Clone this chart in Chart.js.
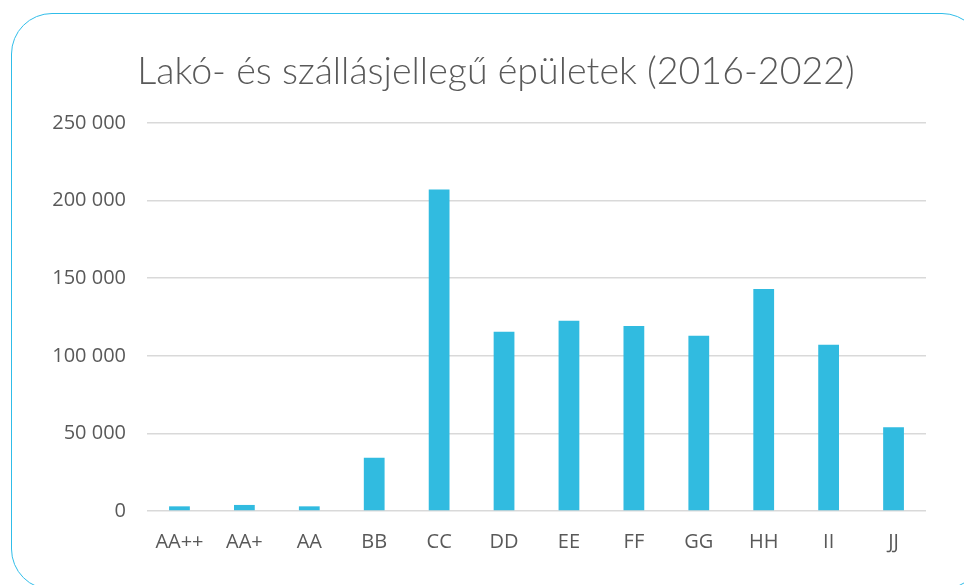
<!DOCTYPE html>
<html>
<head>
<meta charset="utf-8">
<script src="https://cdn.jsdelivr.net/npm/chart.js@4"></script>
<style>
  html, body { margin:0; padding:0; background:#ffffff; overflow:hidden; }
  #wrap { position:relative; width:964px; height:585px; }
  #frame { position:absolute; left:10.5px; top:12.5px; width:972px; height:577px; border:1.6px solid #30bde9; border-radius:41px; box-sizing:border-box; pointer-events:none; }
  canvas { position:absolute; left:0; top:0; }
</style>
</head>
<body>
<div id="wrap">
  <canvas id="c" width="964" height="585"></canvas>
  <div id="frame"></div>
</div>
<script>
const titleText = 'Lakó- és szállásjellegű épületek (2016-2022)';
const categories = ['AA++', 'AA+', 'AA', 'BB', 'CC', 'DD', 'EE', 'FF', 'GG', 'HH', 'II', 'JJ'];
const values = [3000, 3900, 3000, 34300, 207200, 115500, 122600, 119200, 112900, 143000, 107100, 53900];
const yTicks = [0, 50000, 100000, 150000, 200000, 250000];

const fmt = v => String(v).replace(/\B(?=(\d{3})+(?!\d))/g, ' ');

new Chart(document.getElementById('c'), {
  type: 'bar',
  data: {
    labels: categories,
    datasets: [{
      data: values,
      backgroundColor: '#31bbe0',
      borderWidth: 0,
      barPercentage: 0.32,
      categoryPercentage: 1.0
    }]
  },
  options: {
    responsive: false,
    animation: false,
    layout: { padding: { left: 28, right: 0, top: 0, bottom: 0 } },
    plugins: {
      legend: { display: false },
      tooltip: { enabled: false },
      title: {
        display: true,
        text: titleText,
        color: '#595959',
        font: { family: 'Lato', size: 37.6, weight: 300 },
        padding: { top: 49.6, bottom: 28.3 }
      }
    },
    scales: {
      x: {
        grid: { display: false },
        border: { display: false },
        ticks: { color: '#595959', font: { family: 'Open Sans', size: 20 }, padding: 11, maxRotation: 0 },
        afterFit: s => { s.height = 74; }
      },
      y: {
        min: 0, max: 250000,
        afterBuildTicks: s => { s.ticks = yTicks.map(v => ({ value: v })); },
        grid: { color: '#d9d9d9', lineWidth: 1.5, drawTicks: false },
        border: { display: false },
        ticks: { color: '#595959', font: { family: 'Open Sans', size: 20 }, padding: 21, callback: v => fmt(v) },
        afterFit: s => { s.width = 119; }
      },
      yr: {
        position: 'right',
        display: true,
        grid: { display: false, drawTicks: false },
        border: { display: false },
        ticks: { display: false },
        afterFit: s => { s.width = 38; }
      }
    }
  }
});
</script>
</body>
</html>
